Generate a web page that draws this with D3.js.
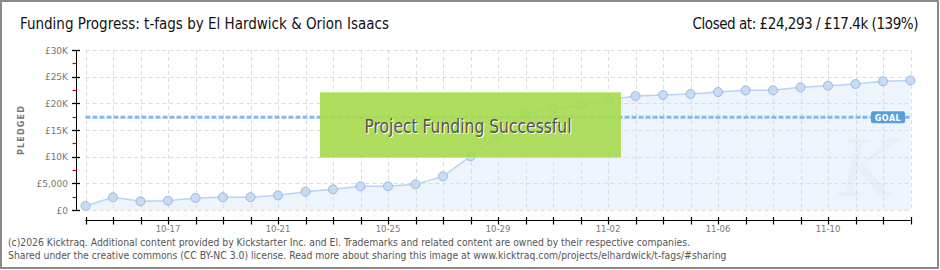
<!DOCTYPE html>
<html>
<head>
<meta charset="utf-8">
<script src="https://cdn.jsdelivr.net/npm/d3@7"></script>
<style>
  html, body { margin: 0; padding: 0; background: #fff; }
  svg { display: block; }
</style>
</head>
<body>
<svg id="chart" width="940" height="270"></svg>
<script>
// ---- data ----
const dates = ["10-14","10-15","10-16","10-17","10-18","10-19","10-20","10-21","10-22","10-23","10-24","10-25","10-26","10-27","10-28","10-29","10-30","10-31","11-01","11-02","11-03","11-04","11-05","11-06","11-07","11-08","11-09","11-10","11-11","11-12","11-13"];
const pledged = [750, 2380, 1630, 1750, 2250, 2380, 2400, 2750, 3440, 3870, 4440, 4440, 4810, 6310, 10060, 14000, 18000, 19000, 19630, 20625, 21375, 21560, 21750, 22125, 22440, 22440, 23000, 23310, 23625, 24125, 24293];
const xLabels = ["10-17","10-21","10-25","10-29","11-02","11-06","11-10"];
const yTicks = [0, 5000, 10000, 15000, 20000, 25000, 30000];
const yTickLabels = ["£0","£5,000","£10K","£15K","£20K","£25K","£30K"];
const yMinorTicks = [2500, 7500, 12500, 17500, 22500, 27500];
const goal = 17400;
const titleText = "Funding Progress: t-fags by El Hardwick & Orion Isaacs";
const closedText = "Closed at:  £24,293 /  £17.4k (139%)";
const footer = [
  "(c)2026 Kicktraq. Additional content provided by Kickstarter Inc. and El. Trademarks and related content are owned by their respective companies.",
  "Shared under the creative commons (CC BY-NC 3.0) license. Read more about sharing this image at www.kicktraq.com/projects/elhardwick/t-fags/#sharing"
];

const svg = d3.select("#chart");
const techFont = "'Liberation Sans Narrow', 'DejaVu Sans Condensed', sans-serif";

const x = d3.scalePoint().domain(dates).range([85.5, 910.5]);
const y = d3.scaleLinear().domain([0, 30000]).range([210, 50]);
const data = dates.map((d, i) => ({d, v: pledged[i]}));

// frame
svg.append("rect").attr("x", 1).attr("y", 1).attr("width", 937).attr("height", 267)
  .attr("fill", "#fff").attr("stroke", "#8a8a8a").attr("stroke-width", 2);

// area
svg.append("path").datum(data)
  .attr("d", d3.area().x(p => x(p.d)).y0(y(0)).y1(p => y(p.v)))
  .attr("fill", "#edf4fc");

// watermark
svg.append("text").attr("x", 868).attr("y", 196).attr("text-anchor", "middle")
  .attr("font-family", "DejaVu Serif, serif").attr("font-style", "italic")
  .attr("font-size", 78).attr("fill", "#e7eff8").text("K");

// grid
const grid = svg.append("g").attr("stroke", "#dcdcdc").attr("stroke-dasharray", "4,3").attr("stroke-width", 1);
grid.selectAll("line.v").data(dates).join("line")
  .attr("x1", d => Math.round(x(d)) + 0.5).attr("x2", d => Math.round(x(d)) + 0.5)
  .attr("y1", y(30000)).attr("y2", y(0));
grid.selectAll("line.h").data(yTicks).join("line")
  .attr("x1", x(dates[0])).attr("x2", x(dates[dates.length - 1]))
  .attr("y1", d => Math.round(y(d)) + 0.5).attr("y2", d => Math.round(y(d)) + 0.5);

// line + points
svg.append("path").datum(data)
  .attr("d", d3.line().x(p => x(p.d)).y(p => y(p.v)))
  .attr("fill", "none").attr("stroke", "#b7d4f2").attr("stroke-width", 1.5);
svg.append("g").selectAll("circle").data(data).join("circle")
  .attr("cx", p => x(p.d)).attr("cy", p => y(p.v)).attr("r", 4.5)
  .attr("fill", "#c4dcf6").attr("stroke", "#9fb8d6").attr("stroke-width", 1);

// goal line
svg.append("line").attr("x1", x(dates[0])).attr("x2", x(dates[dates.length - 1]))
  .attr("y1", y(goal)).attr("y2", y(goal))
  .attr("stroke", "#86b7ea").attr("stroke-width", 3).attr("stroke-dasharray", "5,2");
svg.append("rect").attr("x", 871).attr("y", y(goal) - 6).attr("width", 34).attr("height", 12)
  .attr("rx", 2).attr("fill", "#5b9ddb");
svg.append("text").attr("x", 888).attr("y", y(goal) + 3.5).attr("text-anchor", "middle")
  .attr("font-family", "DejaVu Sans, sans-serif").attr("font-size", 8).attr("font-weight", "bold")
  .attr("letter-spacing", 0.5).attr("fill", "#fff").text("GOAL");

// success box
svg.append("rect").attr("x", 320).attr("y", 92).attr("width", 301).attr("height", 66)
  .attr("fill", "#a6da4e").attr("fill-opacity", 0.9);
svg.append("line").attr("x1", 320).attr("x2", 621).attr("y1", 92.5).attr("y2", 92.5)
  .attr("stroke", "#c5eb86").attr("stroke-width", 1);
svg.append("line").attr("x1", 320).attr("x2", 621).attr("y1", 157.5).attr("y2", 157.5)
  .attr("stroke", "#c5eb86").attr("stroke-width", 1);
const boxText = "Project Funding Successful";
svg.append("text").attr("x", 469).attr("y", 134).attr("text-anchor", "middle")
  .attr("font-family", techFont).attr("font-size", 20).attr("fill", "#fff")
  .attr("textLength", 207).attr("lengthAdjust", "spacingAndGlyphs").text(boxText);
svg.append("text").attr("x", 468).attr("y", 133).attr("text-anchor", "middle")
  .attr("font-family", techFont).attr("font-size", 20).attr("fill", "#555")
  .attr("textLength", 207).attr("lengthAdjust", "spacingAndGlyphs").text(boxText);

// y axis
const yAxisX = 76.5;
svg.append("line").attr("x1", yAxisX).attr("x2", yAxisX).attr("y1", y(30000)).attr("y2", y(0))
  .attr("stroke", "#000").attr("stroke-width", 1);
svg.append("g").selectAll("line").data(yTicks).join("line")
  .attr("x1", 72).attr("x2", 80).attr("y1", d => Math.round(y(d)) + 0.5).attr("y2", d => Math.round(y(d)) + 0.5)
  .attr("stroke", "#000").attr("stroke-width", 1.3);
svg.append("g").selectAll("line").data(yMinorTicks).join("line")
  .attr("x1", 72.5).attr("x2", 76.5).attr("y1", d => Math.round(y(d)) + 0.5).attr("y2", d => Math.round(y(d)) + 0.5)
  .attr("stroke", "#e00000").attr("stroke-width", 1.2);
svg.append("g").selectAll("text").data(yTicks).join("text")
  .attr("x", 68).attr("y", d => y(d) + 3.5).attr("text-anchor", "end")
  .attr("font-family", "DejaVu Sans, sans-serif").attr("font-size", 9).attr("fill", "#777")
  .text((d, i) => yTickLabels[i]);
svg.append("text").attr("transform", `translate(24,130) rotate(-90)`).attr("text-anchor", "middle")
  .attr("font-family", "DejaVu Sans, sans-serif").attr("font-size", 8).attr("font-weight", "bold")
  .attr("letter-spacing", 1.2).attr("fill", "#777").text("PLEDGED");

// x axis
svg.append("line").attr("x1", x(dates[0])).attr("x2", x(dates[dates.length - 1]))
  .attr("y1", 220.5).attr("y2", 220.5).attr("stroke", "#000").attr("stroke-width", 1.2);
svg.append("g").selectAll("line").data(dates).join("line")
  .attr("x1", d => Math.round(x(d)) + 0.5).attr("x2", d => Math.round(x(d)) + 0.5)
  .attr("y1", 217).attr("y2", 224.5).attr("stroke", "#000").attr("stroke-width", 1.2);
svg.append("g").selectAll("text").data(xLabels).join("text")
  .attr("x", d => x(d)).attr("y", 232).attr("text-anchor", "middle")
  .attr("font-family", "DejaVu Sans, sans-serif").attr("font-size", 8.5).attr("fill", "#777")
  .text(d => d);

// titles
svg.append("text").attr("x", 20).attr("y", 29)
  .attr("font-family", techFont).attr("font-size", 15).attr("fill", "#111")
  .text(titleText);
svg.append("text").attr("x", 918).attr("y", 29).attr("text-anchor", "end")
  .attr("font-family", techFont).attr("font-size", 15).attr("letter-spacing", -0.45).attr("fill", "#111")
  .text(closedText);

// footer
svg.append("g").selectAll("text").data(footer).join("text")
  .attr("x", 8).attr("y", (d, i) => 246 + i * 13)
  .attr("font-family", "'DejaVu Sans Condensed', sans-serif").attr("font-size", 10.3).attr("fill", "#555")
  .text(d => d);
</script>
</body>
</html>
